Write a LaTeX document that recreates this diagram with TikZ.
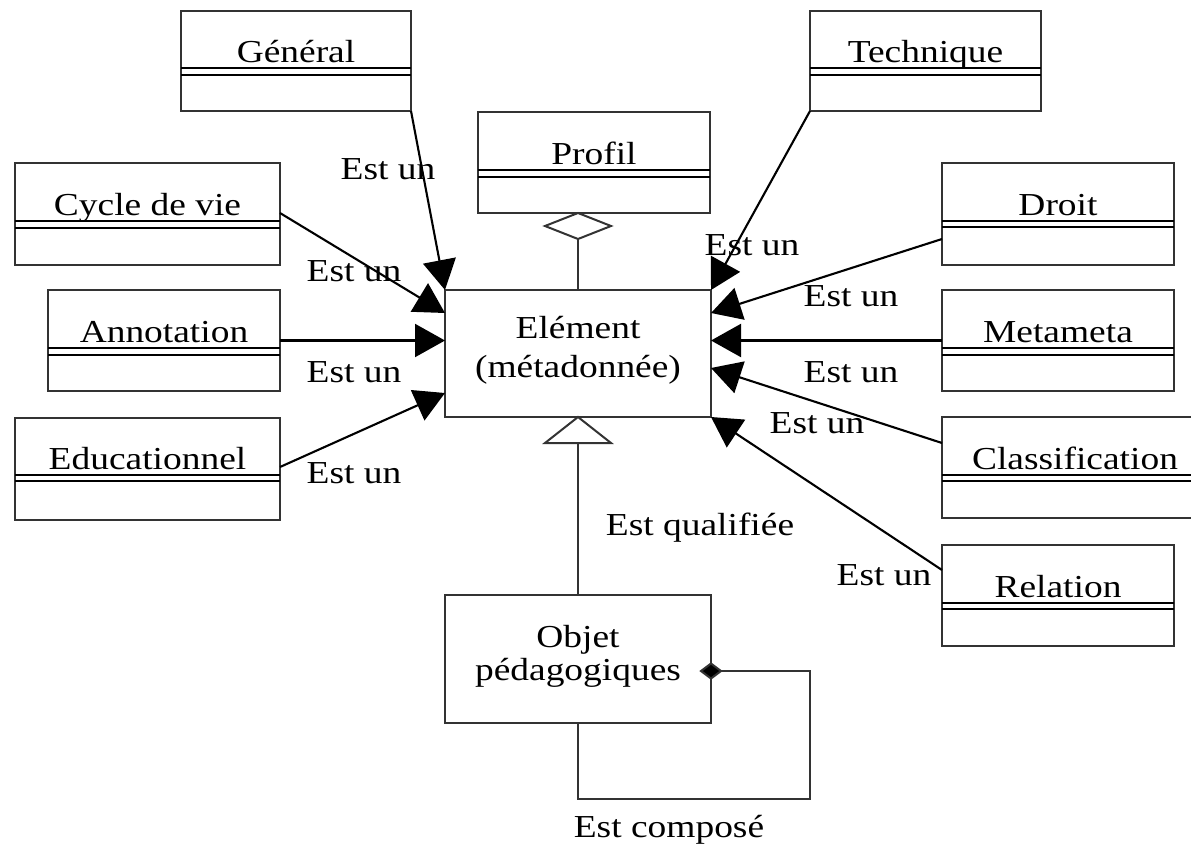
\documentclass[tikz,border=0pt]{standalone}
\usepackage{fontspec}
\setmainfont{Liberation Serif}[FakeStretch=1.17]
\usetikzlibrary{arrows.meta,fit,calc}
\newcommand{\umlclass}[7]{%
  \node[clsbox, fit={(#2,#3) (#4,#5)}] (#1) {};
  \draw[sepline] (#2,{#6-3.3}) -- (#4,{#6-3.3});
  \draw[sepline] (#2,{#6+3.3}) -- (#4,{#6+3.3});
  \node[txt] (#1t) at ({(#2+#4)/2},{#6-9}) {#7};
}
\begin{document}
\begin{tikzpicture}[x=1pt,y=-1pt,
  clsbox/.style={draw=black!80, line width=2pt, inner sep=0pt, outer sep=0pt, rectangle},
  sepline/.style={line width=2.2pt, black},
  txt/.style={font=\fontsize{32}{38}\selectfont, inner sep=0pt, anchor=base},
  isa/.style={line width=2.1pt, black, -{Triangle[length=30pt,width=33pt]}},
  plain/.style={draw=black!80, line width=2pt}]
\useasboundingbox (0,0) rectangle (1191,846);

\umlclass{gen}{181}{11}{411}{111}{71.5}{Général}
\umlclass{tec}{810}{11}{1041}{111}{71.5}{Technique}
\umlclass{pro}{478}{112}{710}{213}{173.5}{Profil}
\umlclass{cyc}{15}{163}{280}{265}{224.5}{Cycle de vie}
\umlclass{dro}{942}{163}{1174}{265}{224}{Droit}
\umlclass{ann}{48}{290}{280}{391}{351.5}{Annotation}
\umlclass{met}{942}{290}{1174}{391}{351.5}{Metameta}
\umlclass{edu}{15}{418}{280}{520}{478}{Educationnel}
\umlclass{cla}{942}{417}{1208}{518}{478}{Classification}
\umlclass{rel}{942}{545}{1174}{646}{606}{Relation}

\node[clsbox, fit={(445,290) (711,417)}] (elem) {};
\node[txt] (elem1) at (578,338) {Elément};
\node[txt] (elem2) at (578,377) {(métadonnée)};

\node[clsbox, fit={(445,595) (711,723)}] (obj) {};
\node[txt] (obj1) at (578,647) {Objet};
\node[txt] (obj2) at (578,680) {pédagogiques};

% Est un arrows
\draw[isa] (gen.south east) -- (elem.north west);
\draw[isa] ($(cyc.north east)+(0,50)$) -- ($(elem.north west)+(0,23)$);
\draw[isa] (ann.east) -- (ann.east -| elem.west);
\draw[isa] ($(edu.north east)+(0,49)$) -- ($(elem.north west)+(0,103)$);
\draw[isa] (tec.south west) -- (elem.north east);
\draw[isa] ($(dro.north west)+(0,76)$) -- ($(elem.north east)+(0,23)$);
\draw[isa] (met.west) -- (met.west -| elem.east);
\draw[isa] ($(cla.north west)+(0,26)$) -- ($(elem.north east)+(0,78)$);
\draw[isa] ($(rel.north west)+(0,25)$) -- (elem.south east);

% aggregation Profil
\coordinate (dtop) at (elem.north |- pro.south);
\draw[plain, fill=white] (dtop) -- ++(33,13) -- ++(-33,13) -- ++(-33,-13) -- cycle;
\draw[plain] ($(dtop)+(0,26)$) -- (elem.north);

% generalization
\draw[plain, fill=white] (elem.south) -- ++(33,26) -- ++(-66,0) -- cycle;
\draw[plain] ($(elem.south)+(0,26)$) -- (obj.north);

% composition
\coordinate (dia) at ($(obj.north east)+(0,76)$);
\coordinate (c1) at (810,799);
\draw[plain, fill=black] ($(dia)+(-10,0)$) -- ++(10,-7.5) -- ++(10,7.5) -- ++(-10,7.5) -- cycle;
\draw[plain] ($(dia)+(10,0)$) -| (c1) -| (obj.south);

% labels
\node[txt] (l1) at (388,179) {Est un};
\node[txt] (l2) at (354,281) {Est un};
\node[txt] (l3) at (354,382) {Est un};
\node[txt] (l4) at (354,483) {Est un};
\node[txt] (l5) at (752,255) {Est un};
\node[txt] (l6) at (851,306) {Est un};
\node[txt] (l7) at (851,382) {Est un};
\node[txt] (l8) at (817,433) {Est un};
\node[txt] (l9) at (884,585) {Est un};
\node[txt] (lq) at (700,535) {Est qualifiée};
\node[txt] (lc) at (669,837) {Est composé};
\end{tikzpicture}
\end{document}
